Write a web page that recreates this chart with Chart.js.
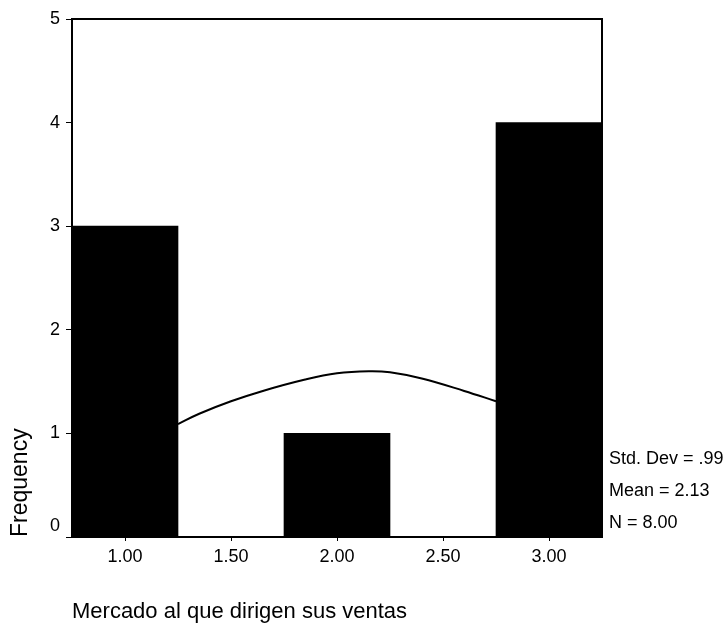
<!DOCTYPE html>
<html>
<head>
<meta charset="utf-8">
<script src="https://cdn.jsdelivr.net/npm/chart.js@4.4.1/dist/chart.umd.min.js"></script>
<style>
  html, body { margin: 0; padding: 0; background: #fff; }
  #wrap { width: 728px; height: 626px; }
</style>
</head>
<body>
<div id="wrap"><canvas id="c" width="728" height="626"></canvas></div>
<script>
// Histogram: frequency of each market value, bin width 0.50
const binCenters = [1, 2, 3];
const frequencies = [3, 1, 4];

// Axis ticks
const xTickValues = [1.0, 1.5, 2.0, 2.5, 3.0];
const xTickLabels = ['1.00', '1.50', '2.00', '2.50', '3.00'];
const yTickValues = [0, 1, 2, 3, 4, 5];
const yTickLabels = ['0', '1', '2', '3', '4', '5'];

// Fitted normal curve, visible part between the bars
const curveX = [1.25, 1.35, 1.5, 1.65, 1.85, 2.0, 2.15, 2.25, 2.4, 2.6, 2.75];
const curveY = [1.09, 1.19, 1.31, 1.41, 1.52, 1.58, 1.60, 1.59, 1.53, 1.41, 1.31];

// Summary statistics shown beside the plot
const statsLines = ['Std. Dev = .99', 'Mean = 2.13', 'N = 8.00'];

const xTitle = 'Mercado al que dirigen sus ventas';
const yTitle = 'Frequency';

const FONT = '"Liberation Sans", Arial, sans-serif';

// Box around the plotting area
const framePlugin = {
  id: 'frame',
  afterDatasetsDraw(chart) {
    const { ctx, chartArea: a } = chart;
    ctx.save();
    ctx.strokeStyle = '#000';
    ctx.lineWidth = 2;
    ctx.strokeRect(a.left, a.top, a.right - a.left, a.bottom - a.top);
    ctx.restore();
  }
};

// Statistics block to the right of the plot
const statsPlugin = {
  id: 'stats',
  afterDraw(chart) {
    const { ctx, chartArea: a } = chart;
    ctx.save();
    ctx.fillStyle = '#000';
    ctx.font = '18px ' + FONT;
    ctx.textAlign = 'left';
    ctx.textBaseline = 'middle';
    statsLines.forEach((t, i) => {
      ctx.fillText(t, a.right + 7, a.bottom - 78 + i * 32);
    });
    ctx.restore();
  }
};

new Chart(document.getElementById('c'), {
  data: {
    datasets: [
      {
        type: 'line',
        data: curveX.map((x, i) => ({ x: x, y: curveY[i] })),
        borderColor: '#000',
        borderWidth: 2,
        pointRadius: 0,
        tension: 0.4,
        fill: false,
        order: 0
      },
      {
        type: 'bar',
        data: binCenters.map((x, i) => ({ x: x, y: frequencies[i] })),
        backgroundColor: '#000',
        borderWidth: 0,
        barPercentage: 1.0,
        categoryPercentage: 1.0,
        order: 1
      }
    ]
  },
  options: {
    responsive: false,
    animation: false,
    devicePixelRatio: 1,
    layout: { padding: { top: 19, right: 126, left: 0, bottom: 0 } },
    plugins: { legend: { display: false }, tooltip: { enabled: false } },
    scales: {
      x: {
        type: 'linear',
        min: 0.75,
        max: 3.25,
        offset: false,
        afterBuildTicks(s) { s.ticks = xTickValues.map(v => ({ value: v })); },
        afterFit(s) { s.height = 89; },
        ticks: {
          color: '#000',
          font: { family: FONT, size: 18 },
          padding: 5,
          maxRotation: 0,
          autoSkip: false,
          callback(v, i) { return xTickLabels[i]; }
        },
        grid: { display: true, drawOnChartArea: false, drawTicks: true, tickLength: 4, color: '#000', offset: false },
        border: { display: true, color: '#000', width: 2 },
        title: {
          display: true,
          text: xTitle,
          align: 'start',
          color: '#000',
          font: { family: FONT, size: 22, lineHeight: 1 },
          padding: { top: 0, bottom: 3 }
        }
      },
      y: {
        min: 0,
        max: 5,
        afterBuildTicks(s) { s.ticks = yTickValues.map(v => ({ value: v })); },
        afterFit(s) { s.width = 72; },
        ticks: {
          color: '#000',
          font: { family: FONT, size: 18 },
          padding: 6,
          // the zero label sits a little above the x axis line
          callback(v, i) { return i === 0 ? [yTickLabels[i], ''] : yTickLabels[i]; }
        },
        grid: { display: true, drawOnChartArea: false, drawTicks: true, tickLength: 6, color: '#000' },
        border: { display: true, color: '#000', width: 2 },
        title: {
          display: true,
          text: yTitle,
          align: 'start',
          color: '#000',
          font: { family: FONT, size: 23, lineHeight: 1 },
          padding: { top: 9, bottom: 0 }
        }
      }
    }
  },
  plugins: [framePlugin, statsPlugin]
});
</script>
</body>
</html>
